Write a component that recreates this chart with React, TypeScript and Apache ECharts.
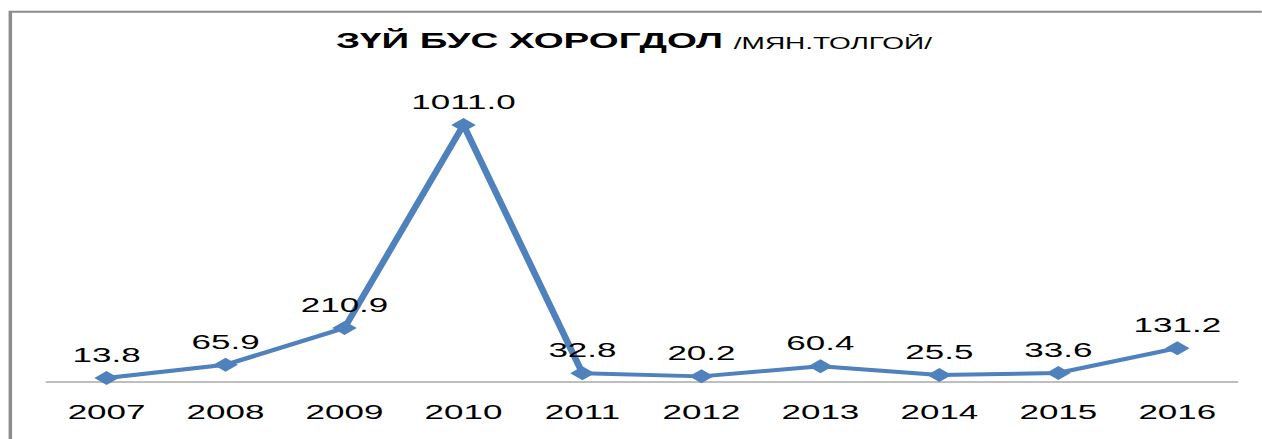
import React, { useEffect, useRef } from "react";
import * as echarts from "echarts";

const categories: string[] = ["2007", "2008", "2009", "2010", "2011", "2012", "2013", "2014", "2015", "2016"];
const values: number[] = [13.8, 65.9, 210.9, 1011.0, 32.8, 20.2, 60.4, 25.5, 33.6, 131.2];
const titleMain = "ЗҮЙ БУС ХОРОГДОЛ";
const titleUnit = "/МЯН.ТОЛГОЙ/";

const STRETCH = 1.75;
const FULL_W = 1262;
const FULL_H = 439;
const FONT = "'Liberation Sans', Arial, sans-serif";

export default function App() {
  const ref = useRef<HTMLDivElement>(null);

  useEffect(() => {
    document.body.style.margin = "0";
    document.body.style.background = "#ffffff";
    const chart = echarts.init(ref.current!, undefined, { renderer: "svg" });
    chart.setOption({
      animation: false,
      backgroundColor: "#ffffff",
      title: {
        text: `{a|${titleMain}} {b|${titleUnit}}`,
        left: 187,
        top: 20.5,
        textStyle: {
          fontFamily: FONT,
          fontSize: 22,
          fontWeight: "bold",
          color: "#000000",
          rich: {
            a: {
              fontFamily: FONT,
              fontSize: 22,
              fontWeight: "bold",
              color: "#000000",
              lineHeight: 26,
              verticalAlign: "bottom",
            },
            b: {
              fontFamily: FONT,
              fontSize: 16,
              fontWeight: "normal",
              color: "#000000",
              lineHeight: 22,
              verticalAlign: "bottom",
            },
          },
        },
      },
      graphic: [
        {
          type: "polyline",
          silent: true,
          shape: {
            points: [
              [5.9, 900],
              [5.9, 11.8],
              [900, 11.8],
            ],
          },
          style: { fill: "none", stroke: "#8c8c8c", lineWidth: 2 },
        },
      ],
      grid: {
        left: 26.9,
        right: FULL_W / STRETCH - 706.9,
        top: 77,
        bottom: FULL_H - 381.5,
        containLabel: false,
      },
      xAxis: {
        type: "category",
        data: categories,
        boundaryGap: true,
        axisLine: { show: true, lineStyle: { color: "#bebebe", width: 2 } },
        axisTick: { show: false },
        axisLabel: {
          color: "#000000",
          fontFamily: FONT,
          fontSize: 20,
          margin: 20,
        },
        splitLine: { show: false },
      },
      yAxis: {
        type: "value",
        min: 0,
        max: 1200,
        show: false,
        splitLine: { show: false },
      },
      series: [
        {
          type: "line",
          data: values,
          symbol: "diamond",
          symbolSize: 14,
          showAllSymbol: true,
          lineStyle: { color: "#4f81bd", width: 4 },
          itemStyle: { color: "#4f81bd" },
          label: {
            show: true,
            position: "top",
            distance: 6,
            color: "#000000",
            fontFamily: FONT,
            fontSize: 20,
            formatter: (p: any) => Number(p.value).toFixed(1),
          },
        },
      ],
    });
    return () => chart.dispose();
  }, []);

  return (
    <div
      style={{
        position: "fixed",
        left: 0,
        top: 0,
        width: FULL_W,
        height: FULL_H,
        overflow: "hidden",
        background: "#ffffff",
      }}
    >
      <div
        ref={ref}
        style={{
          width: FULL_W / STRETCH,
          height: FULL_H,
          transform: `scaleX(${STRETCH})`,
          transformOrigin: "0 0",
        }}
      />
    </div>
  );
}
